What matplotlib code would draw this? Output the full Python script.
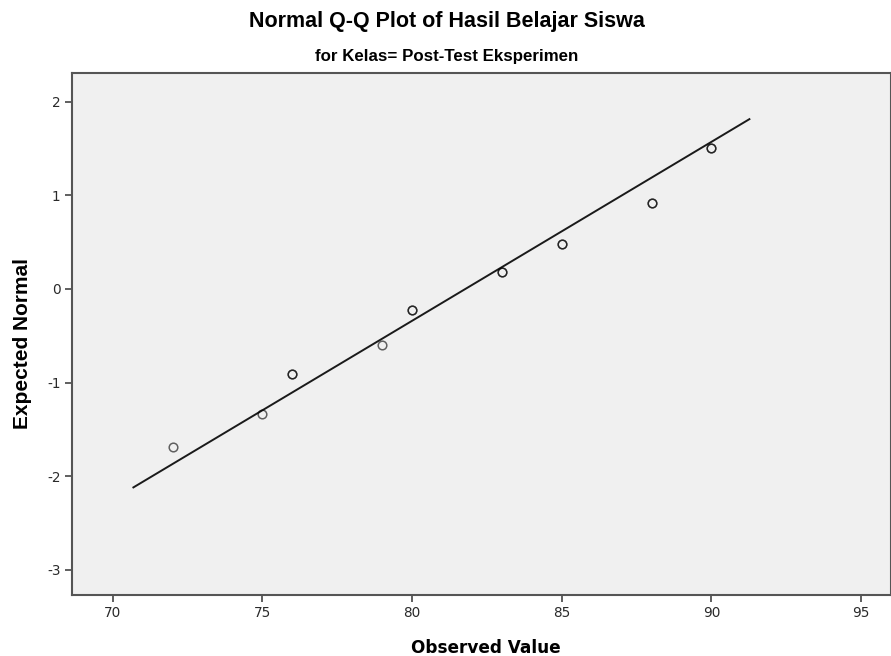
import matplotlib
matplotlib.use("Agg")
import matplotlib.pyplot as plt
import numpy as np

# Data
observed = [72, 75, 76, 79, 80, 83, 85, 88, 90]
expected = [-1.685, -1.332, -0.905, -0.598, -0.224, 0.178, 0.481, 0.919, 1.503]
overlap = [1, 1, 2, 1, 2, 2, 2, 2, 2]
line_mean = 81.78
line_sd = 5.23
line_x = [70.69, 91.27]
x_ticks = [70, 75, 80, 85, 90, 95]
y_ticks = [-3, -2, -1, 0, 1, 2]

plt.rcParams['font.family'] = ['Liberation Sans', 'DejaVu Sans']

fig = plt.figure(figsize=(8.91, 6.56), dpi=100)
ax = fig.add_axes([0.0805, 0.093, 0.9195, 0.7962])
ax.set_facecolor('#F0F0F0')

lx = np.array(line_x)
ly = (lx - line_mean) / line_sd
ax.plot(lx, ly, color='#1a1a1a', lw=1.4, zorder=2)

for xv, yv, c in zip(observed, expected, overlap):
    for _ in range(c):
        ax.plot([xv], [yv], marker='o', ms=6.2, mfc='none', mec='#000000',
                mew=1.1, alpha=0.6, ls='none', zorder=3)

ax.set_xlim(68.63, 96.0)
ax.set_ylim(-3.27, 2.311)
ax.set_xticks(x_ticks)
ax.set_yticks(y_ticks)
ax.set_xticklabels([str(t) for t in x_ticks], family='DejaVu Sans')
ax.set_yticklabels([str(t) for t in y_ticks], family='DejaVu Sans')
ax.tick_params(direction='out', length=5, width=1.2, colors='#444444',
               labelsize=9.8, labelcolor='#2a2a2a', pad=3)

for s in ax.spines.values():
    s.set_color('#555555')
    s.set_linewidth(1.5)

ax.set_xlabel('Observed Value', fontsize=12.2, fontweight='bold', family='DejaVu Sans')
ax.xaxis.label.set_va('baseline')
ax.xaxis.set_label_coords(0.5057, -0.1115)
ax.set_ylabel('Expected Normal', fontsize=15, fontweight='bold')
ax.yaxis.label.set_va('baseline')
ax.yaxis.set_label_coords(-0.0533, 0.4815)

fig.text(0.5015, 1 - 27 / 656, 'Normal Q-Q Plot of Hasil Belajar Siswa', ha='center',
         va='baseline', fontsize=15.5, fontweight='bold')
fig.text(0.5015, 1 - 61 / 656, 'for Kelas= Post-Test Eksperimen', ha='center',
         va='baseline', fontsize=12.2, fontweight='bold')

fig.savefig('out.png', dpi=100)
